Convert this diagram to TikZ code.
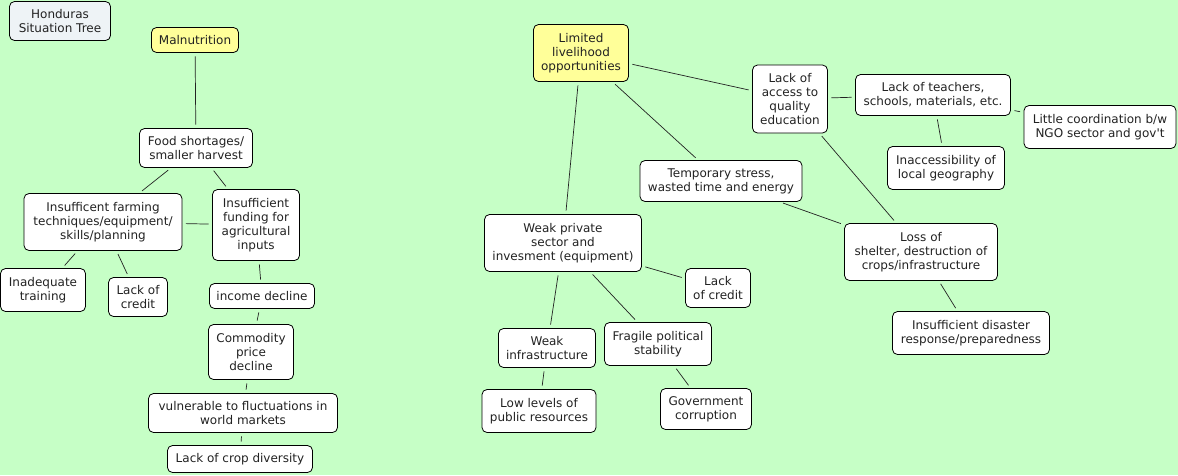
\documentclass[tikz,border=0pt]{standalone}
\usepackage{fontspec}
\newfontfamily\mapfont{DejaVu Sans}
\usetikzlibrary{positioning}
\definecolor{MintBack}{HTML}{C6FFC6}
\definecolor{PaleYellow}{HTML}{FFFF99}
\definecolor{PaleSlate}{HTML}{EEF3F6}
\definecolor{InkGrey}{HTML}{222222}
\tikzset{
  box/.style={draw,rounded corners=5pt,fill=white,align=center,line width=.8pt,
    inner sep=1pt,text=InkGrey,font=\mapfont\fontsize{12}{14.2}\selectfont},
  rootbox/.style={box,fill=PaleYellow},
  link/.style={line width=.7pt,InkGrey,shorten <=3.5pt,shorten >=3.5pt}
}
\begin{document}
\begin{tikzpicture}[x=1pt,y=-1pt]
  \fill[MintBack] (0,0) rectangle (1178,475);
  \useasboundingbox (0,0) rectangle (1178,475);

  \node[box,fill=PaleSlate,minimum width=101pt,minimum height=39pt] (title) at (60,21) {Honduras\\Situation Tree};

  % left tree
  \node[rootbox,minimum width=87pt,minimum height=25pt] (malnut) at (195,40) {Malnutrition};
  \node[box,minimum width=113pt,minimum height=39pt] (food) at (196,148) {Food shortages/\\smaller harvest};
  \node[box,minimum width=158pt,minimum height=57pt] (farming) at (103,222) {Insufficent farming\\techniques/equipment/\\skills/planning};
  \node[box,minimum width=87pt,minimum height=71pt] (funding) at (256,225) {Insufficient\\funding for\\agricultural\\inputs};
  \node[box,minimum width=85pt,minimum height=43pt] (training) at (43,290) {Inadequate\\training};
  \node[box,minimum width=59pt,minimum height=39pt] (creditL) at (138,297) {Lack of\\credit};
  \node[box,minimum width=105pt,minimum height=25pt] (income) at (262,296) {income decline};
  \node[box,minimum width=85pt,minimum height=55pt] (commodity) at (251,352) {Commodity\\price\\decline};
  \node[box,minimum width=189pt,minimum height=39pt] (vulnerable) at (243,413) {vulnerable to fluctuations in\\world markets};
  \node[box,minimum width=145pt,minimum height=27pt] (diversity) at (240,459) {Lack of crop diversity};

  % right tree
  \node[rootbox,minimum width=95pt,minimum height=57pt] (livelihood) at (581,53) {Limited\\livelihood\\opportunities};
  \node[box,minimum width=75pt,minimum height=68pt] (education) at (790,99) {Lack of\\access to\\quality\\education};
  \node[box,minimum width=155pt,minimum height=41pt] (teachers) at (933,95) {Lack of teachers,\\schools, materials, etc.};
  \node[box,minimum width=152pt,minimum height=43pt] (coord) at (1100,127) {Little coordination b/w\\NGO sector and gov't};
  \node[box,minimum width=117pt,minimum height=43pt] (geography) at (946,168) {Inaccessibility of\\local geography};
  \node[box,minimum width=162pt,minimum height=41pt] (stress) at (721,181) {Temporary stress,\\wasted time and energy};
  \node[box,minimum width=153pt,minimum height=57pt] (shelter) at (921,252) {Loss of\\shelter, destruction of\\crops/infrastructure};
  \node[box,minimum width=157pt,minimum height=43pt] (disaster) at (971,333) {Insufficient disaster\\response/preparedness};
  \node[box,minimum width=157pt,minimum height=57pt] (private) at (563,243) {Weak private\\sector and\\invesment (equipment)};
  \node[box,minimum width=65pt,minimum height=39pt] (creditR) at (718,288) {Lack\\of credit};
  \node[box,minimum width=97pt,minimum height=39pt] (infra) at (547,348) {Weak\\infrastructure};
  \node[box,minimum width=107pt,minimum height=43pt] (political) at (658,344) {Fragile political\\stability};
  \node[box,minimum width=114pt,minimum height=43pt] (public) at (539,411) {Low levels of\\public resources};
  \node[box,minimum width=91pt,minimum height=41pt] (corruption) at (706,409) {Government\\corruption};

  % connectors
  \draw[link] (malnut) -- (food);
  \draw[link] (food) -- (farming);
  \draw[link] (food) -- (funding);
  \draw[link] (farming) -- (funding);
  \draw[link] (farming) -- (training);
  \draw[link] (farming) -- (creditL);
  \draw[link] (funding) -- (income);
  \draw[link] (income) -- (commodity);
  \draw[link] (commodity) -- (vulnerable);
  \draw[link] (vulnerable) -- (diversity);

  \draw[link] (livelihood) -- (education);
  \draw[link] (livelihood) -- (stress);
  \draw[link] (livelihood) -- (private);
  \draw[link] (education) -- (teachers);
  \draw[link] (education) -- (shelter);
  \draw[link] (teachers) -- (coord);
  \draw[link] (teachers) -- (geography);
  \draw[link] (stress) -- (shelter);
  \draw[link] (shelter) -- (disaster);
  \draw[link] (private) -- (creditR);
  \draw[link] (private) -- (infra);
  \draw[link] (private) -- (political);
  \draw[link] (infra) -- (public);
  \draw[link] (political) -- (corruption);
\end{tikzpicture}
\end{document}
